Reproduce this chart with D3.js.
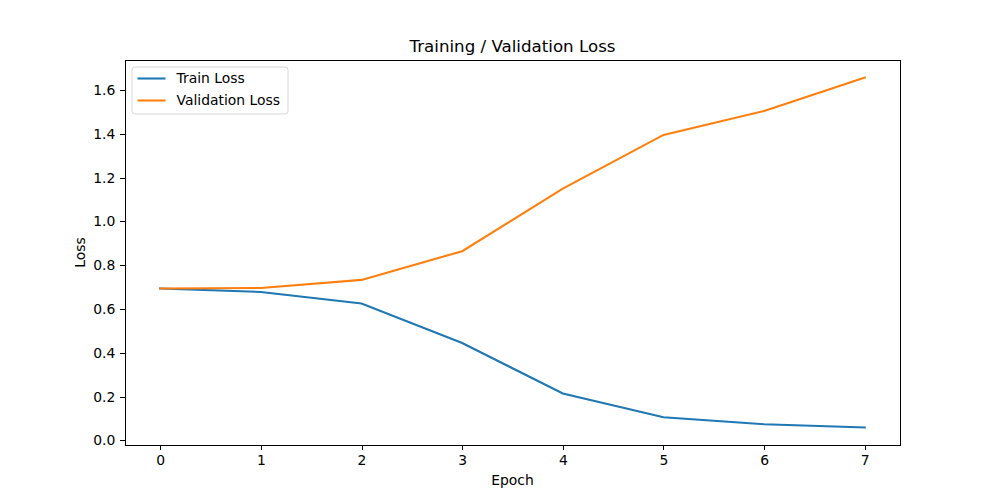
<!DOCTYPE html>
<html>
<head>
<meta charset="utf-8">
<script src="https://cdn.jsdelivr.net/npm/d3@7"></script>
<style>
  body { margin: 0; background: #fff; }
  text { font-family: "DejaVu Sans", sans-serif; }
</style>
</head>
<body>
<div id="chart"></div>
<script>
// values
const epochs = [0, 1, 2, 3, 4, 5, 6, 7];
const trainLoss = [0.694, 0.678, 0.625, 0.445, 0.214, 0.106, 0.074, 0.059];
const valLoss = [0.694, 0.696, 0.733, 0.864, 1.150, 1.395, 1.504, 1.657];
const yTicks = [0.0, 0.2, 0.4, 0.6, 0.8, 1.0, 1.2, 1.4, 1.6];
const seriesNames = ["Train Loss", "Validation Loss"];
const colors = ["#1f77b4", "#ff7f0e"];

const width = 1000, height = 500;
const margin = {top: 60, right: 100, bottom: 55, left: 125};
const visWidth = width - margin.left - margin.right;
const visHeight = height - margin.top - margin.bottom;

const svg = d3.select("#chart")
  .append("svg")
    .attr("width", width)
    .attr("height", height);

const g = svg.append("g")
    .attr("transform", `translate(${margin.left}, ${margin.top})`);

// matplotlib style 5% margins
const xMin = d3.min(epochs), xMax = d3.max(epochs);
const xPad = (xMax - xMin) * 0.05;
const x = d3.scaleLinear()
    .domain([xMin - xPad, xMax + xPad])
    .range([0, visWidth]);

const all = trainLoss.concat(valLoss);
const yMin = d3.min(all), yMax = d3.max(all);
const yPad = (yMax - yMin) * 0.05;
const y = d3.scaleLinear()
    .domain([yMin - yPad, yMax + yPad])
    .range([visHeight, 0]);

const tickLen = 4.86;
const fontSize = 13.9;

const xAxis = g.append("g")
    .attr("transform", `translate(0,${visHeight})`)
    .call(d3.axisBottom(x).tickValues(epochs).tickFormat(d3.format("d"))
      .tickSize(tickLen).tickPadding(4.86));
xAxis.select(".domain").remove();

const yAxis = g.append("g")
    .call(d3.axisLeft(y).tickValues(yTicks).tickFormat(d3.format(".1f"))
      .tickSize(tickLen).tickPadding(4.86));
yAxis.select(".domain").remove();

g.selectAll(".tick line")
    .attr("stroke", "#000")
    .attr("stroke-width", 1)
    .attr("shape-rendering", "crispEdges");
g.selectAll(".tick text")
    .attr("font-family", "DejaVu Sans, sans-serif")
    .attr("font-size", fontSize)
    .attr("fill", "#000");

// lines
const line = d3.line()
    .x((d, i) => x(epochs[i]))
    .y(d => y(d));

[trainLoss, valLoss].forEach((s, k) => {
  g.append("path")
    .datum(s)
    .attr("fill", "none")
    .attr("stroke", colors[k])
    .attr("stroke-width", 2.08)
    .attr("stroke-linecap", "square")
    .attr("d", line);
});

// frame
g.append("rect")
    .attr("width", visWidth)
    .attr("height", visHeight)
    .attr("fill", "none")
    .attr("stroke", "#000")
    .attr("stroke-width", 1)
    .attr("shape-rendering", "crispEdges");

// title and axis labels
svg.append("text")
    .attr("x", margin.left + visWidth / 2)
    .attr("y", margin.top - 8)
    .attr("text-anchor", "middle")
    .attr("font-size", 16.67)
    .text("Training / Validation Loss");

svg.append("text")
    .attr("x", margin.left + visWidth / 2)
    .attr("y", 485)
    .attr("text-anchor", "middle")
    .attr("font-size", fontSize)
    .text("Epoch");

svg.append("text")
    .attr("transform", `translate(85,${margin.top + visHeight / 2}) rotate(-90)`)
    .attr("text-anchor", "middle")
    .attr("font-size", fontSize)
    .text("Loss");

// legend
const legend = g.append("g")
    .attr("transform", "translate(7,7)");

legend.append("rect")
    .attr("width", 156)
    .attr("height", 47)
    .attr("rx", 3)
    .attr("fill", "#fff")
    .attr("fill-opacity", 0.8)
    .attr("stroke", "#cccccc")
    .attr("stroke-width", 0.8);

seriesNames.forEach((name, i) => {
  const ly = 11.5 + i * 22;
  legend.append("line")
    .attr("x1", 5.5).attr("x2", 33.5)
    .attr("y1", ly).attr("y2", ly)
    .attr("stroke", colors[i])
    .attr("stroke-width", 2.08);
  legend.append("text")
    .attr("x", 44.5)
    .attr("y", ly)
    .attr("dy", "0.35em")
    .attr("font-size", fontSize)
    .text(name);
});
</script>
</body>
</html>
